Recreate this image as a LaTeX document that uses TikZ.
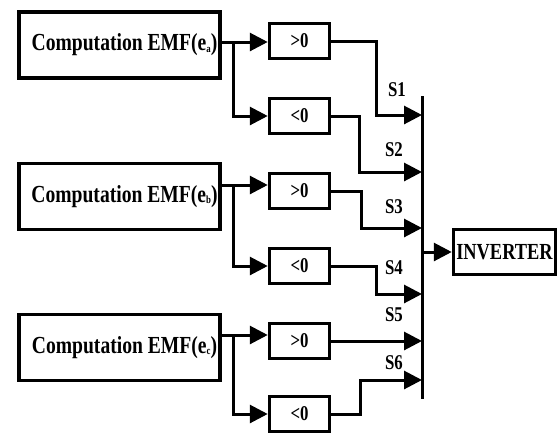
\documentclass[tikz,border=0pt]{standalone}
\usepackage{fontspec}
\newfontfamily\diagfont[FakeStretch=0.8]{Liberation Serif}
\usetikzlibrary{arrows.meta,positioning}
\newcommand\idx[1]{\raisebox{-1.5pt}{\fontsize{11}{11}\selectfont #1}}
\tikzset{
  emf/.style  ={draw, line width=3.5pt, minimum width=201pt, minimum height=66pt, inner sep=0pt,
                font=\diagfont\bfseries\fontsize{24.5}{26}\selectfont},
  sgn/.style  ={draw, line width=3.5pt, minimum width=60pt, minimum height=35pt, inner sep=0pt,
                font=\diagfont\bfseries\fontsize{21}{22}\selectfont},
  inv/.style  ={draw, line width=3.5pt, minimum width=102pt, minimum height=45pt, inner sep=0pt,
                font=\diagfont\bfseries\fontsize{23}{26}\selectfont},
  lbl/.style  ={font=\diagfont\bfseries\fontsize{21}{22}\selectfont, inner sep=0pt},
  wire/.style ={line width=3pt},
  flow/.style ={-{Triangle[length=18pt,width=18pt]}, line width=3pt},
  bus/.style  ={line width=3pt},
}
\begin{document}
\begin{tikzpicture}[x=1pt,y=-1pt]
  \useasboundingbox (0,0) rectangle (558,434);
  % EMF computation blocks
  \node[emf] (ea) at (119.5,45)    {\hspace*{10pt}Computation EMF(e\idx{a})};
  \node[emf] (eb) at (119.5,196.5) {\hspace*{10pt}Computation EMF(e\idx{b})};
  \node[emf] (ec) at (119.5,347.5) {\hspace*{10pt}Computation EMF(e\idx{c})};
  % sign detectors
  \node[sgn] (pa) at (299.5,41)  {>0};
  \node[sgn] (na) at (299.5,116) {<0};
  \node[sgn] (pb) at (299.5,191) {>0};
  \node[sgn] (nb) at (299.5,266) {<0};
  \node[sgn] (pc) at (299.5,341) {>0};
  \node[sgn] (nc) at (299.5,414) {<0};
  % inverter
  \node[inv] (ivt) at (504.5,252) {INVERTER};
  % branch points and switching bus
  \coordinate (ja) at (233,42);
  \coordinate (jb) at (233,185);
  \coordinate (jc) at (233,335);
  \coordinate (bt) at (422,96);
  \coordinate (bb) at (422,399);
  \coordinate (s1) at (422,115);
  \coordinate (s2) at (422,172);
  \coordinate (s3) at (422,228);
  \coordinate (s4) at (422,294);
  \coordinate (s6) at (422,380);

  \draw[wire] (ea.east |- ja) -- (ja);
  \draw[flow] (ja) -- (ja -| pa.west);
  \draw[flow] (ja) |- (na.west);
  \draw[wire] (eb.east |- jb) -- (jb);
  \draw[flow] (jb) -- (jb -| pb.west);
  \draw[flow] (jb) |- (nb.west);
  \draw[wire] (ec.east |- jc) -- (jc);
  \draw[flow] (jc) -- (jc -| pc.west);
  \draw[flow] (jc) |- (nc.west);

  \draw[bus] (bt) -- (bb);
  \draw[flow] (pa.east) -- ++(45,0) |- (s1);
  \draw[flow] (na.east) -- ++(28,0) |- (s2);
  \draw[flow] (pb.east) -- ++(30,0) |- (s3);
  \draw[flow] (nb.east) -- ++(45,0) |- (s4);
  \draw[flow] (pc.east) -- (pc.east -| bt);
  \draw[flow] (nc.east) -- ++(29,0) |- (s6);
  \draw[flow] (ivt.west -| bt) -- (ivt.west);

  \node[lbl] (l1) at (397,90)  {S1};
  \node[lbl] (l2) at (394,150) {S2};
  \node[lbl] (l3) at (394,207) {S3};
  \node[lbl] (l4) at (394,268) {S4};
  \node[lbl] (l5) at (394,315) {S5};
  \node[lbl] (l6) at (394,363) {S6};
\end{tikzpicture}
\end{document}
